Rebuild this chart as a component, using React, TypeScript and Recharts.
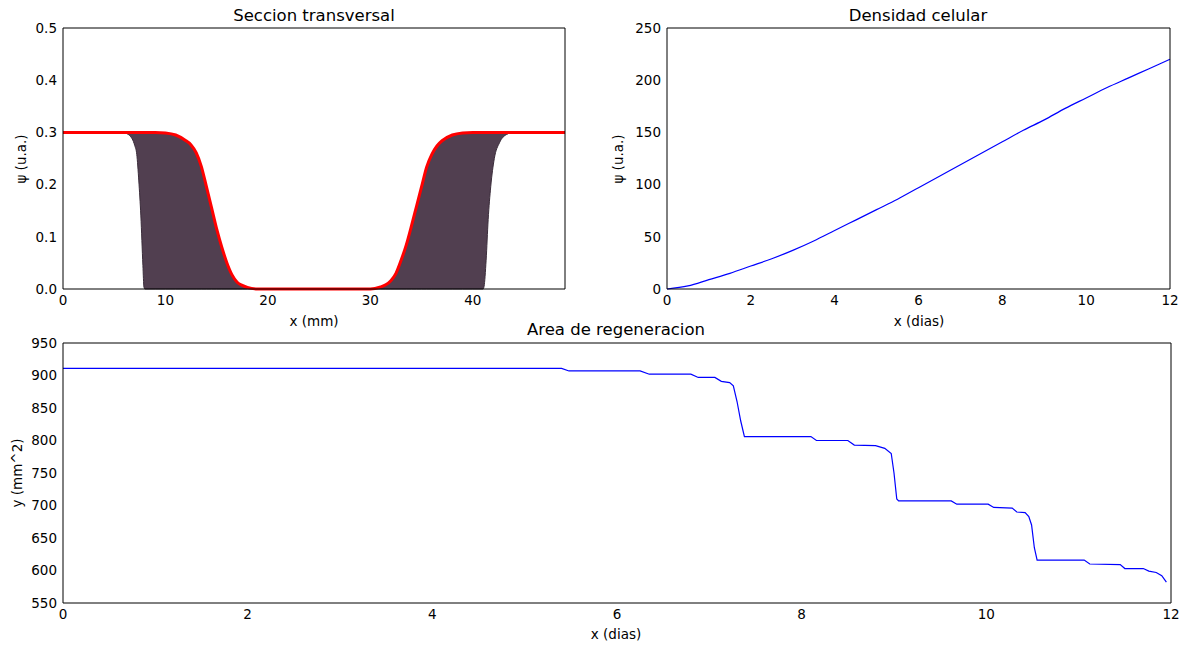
import React from "react";
import { ComposedChart, LineChart, Line, Area, XAxis, YAxis } from "recharts";

// Seccion transversal: profile at the first step and at the last step (red)
const sectionX = [
  0, 5, 5.5, 6, 6.5, 7, 7.2, 7.4, 7.6, 7.8, 7.9, 8, 9, 10, 11, 12, 12.5, 13, 13.5, 14, 14.5, 15, 15.5, 16,
  16.5, 17, 17.5, 18, 19, 30, 31, 31.5, 32, 32.5, 33, 33.5, 34, 34.5, 35, 35.5, 36, 36.5, 37, 38, 39, 40,
  41, 41.1, 41.3, 41.5, 41.75, 42.1, 42.6, 43.3, 44, 49,
];
const sectionInitial = [
  0.3, 0.3, 0.3, 0.299, 0.294, 0.275, 0.258, 0.207, 0.14, 0.045, 0.004, 0, 0, 0, 0, 0, 0, 0, 0, 0, 0, 0, 0, 0,
  0, 0, 0, 0, 0, 0, 0, 0, 0, 0, 0, 0, 0, 0, 0, 0, 0, 0, 0, 0, 0, 0,
  0, 0.005, 0.055, 0.133, 0.196, 0.25, 0.28, 0.296, 0.3, 0.3,
];
const sectionFinal = [
  0.3, 0.3, 0.3, 0.3, 0.3, 0.3, 0.3, 0.3, 0.3, 0.3, 0.3, 0.3, 0.3, 0.299, 0.295, 0.284, 0.276, 0.261, 0.235, 0.196, 0.156, 0.115, 0.08, 0.05,
  0.027, 0.013, 0.007, 0.003, 0, 0, 0.004, 0.008, 0.016, 0.03, 0.055, 0.084, 0.12, 0.158, 0.196, 0.234, 0.258, 0.274, 0.284, 0.295, 0.299, 0.3,
  0.3, 0.3, 0.3, 0.3, 0.3, 0.3, 0.3, 0.3, 0.3, 0.3,
];

// Densidad celular
const densityDays = [0, 0.5, 1, 1.5, 2, 2.5, 3, 3.5, 4, 4.5, 5, 5.5, 6, 6.5, 7, 7.5, 8, 8.5, 9, 9.5, 10, 10.5, 11, 11.5, 12];
const densityValues = [0, 3, 9, 15, 22, 29, 37, 46, 56, 66, 76, 86, 97, 108, 119, 130, 141, 152, 162, 173, 183, 193, 202, 211, 220];

// Area de regeneracion
const areaDays = [
  0, 5.4, 5.48, 6.25, 6.35, 6.8, 6.88, 7.06, 7.13, 7.22, 7.26, 7.3, 7.34, 7.38, 8.1, 8.16, 8.5, 8.57, 8.8, 8.9,
  8.97, 9.0, 9.03, 9.05, 9.62, 9.68, 10.02, 10.08, 10.28, 10.33, 10.42, 10.46, 10.49, 10.52, 10.55, 11.06, 11.12,
  11.45, 11.5, 11.7, 11.76, 11.84, 11.9, 11.95,
];
const areaValues = [
  911, 911, 907, 907, 902, 902, 897, 897, 891, 889, 884, 860, 830, 806, 806, 800, 800, 793, 792, 788,
  780, 750, 710, 707, 707, 702, 702, 697, 696, 690, 689, 683, 670, 635, 616, 616, 610,
  609, 603, 603, 599, 597, 592, 582,
];

const sectionTicksX = [0, 10, 20, 30, 40];
const sectionTicksY = [0, 0.1, 0.2, 0.3, 0.4, 0.5];
const dayTicks = [0, 2, 4, 6, 8, 10, 12];
const densityTicksY = [0, 50, 100, 150, 200, 250];
const areaTicksY = [550, 600, 650, 700, 750, 800, 850, 900, 950];

const sectionData = sectionX.map((x, i) => ({ x, init: sectionInitial[i], red: sectionFinal[i] }));
const densityData = densityDays.map((x, i) => ({ x, y: densityValues[i] }));
const areaData = areaDays.map((x, i) => ({ x, y: areaValues[i] }));

const tickStyle = { fontSize: 13.5, fill: "#000" };
const line = { stroke: "#000", strokeWidth: 1 };

const Txt = ({ x, y, size = 13.5, rotate = false, children }: any) => (
  <div
    style={{
      position: "absolute",
      left: x,
      top: y,
      fontSize: size,
      whiteSpace: "nowrap",
      lineHeight: 1,
      transform: `translate(-50%, -50%)${rotate ? " rotate(-90deg)" : ""}`,
    }}
  >
    {children}
  </div>
);

// box with inward ticks on all four sides, like the matplotlib frame
const frame = (
  xTicks: number[],
  xDomain: number[],
  yTicks: number[],
  yDomain: number[],
  yWidth: number,
  fmt?: (v: number) => string
) => {
  const xCommon = { dataKey: "x", type: "number" as const, domain: xDomain, ticks: xTicks, interval: 0 as const };
  const yCommon = { type: "number" as const, domain: yDomain, ticks: yTicks, interval: 0 as const };
  return [
    // labelled axes
    <XAxis key="xb" {...xCommon} height={30} axisLine={line} tickLine={false} tickSize={0} tickMargin={6} tick={tickStyle} />,
    <YAxis key="yl" {...yCommon} width={yWidth} axisLine={line} tickLine={false} tickSize={0} tickMargin={6} tick={tickStyle} tickFormatter={fmt} />,
    // inward tick marks and the top / right edges
    <XAxis key="xbm" xAxisId="bm" {...xCommon} mirror axisLine={false} tickLine={line} tickSize={4} tick={false} />,
    <XAxis key="xt" xAxisId="top" orientation="top" {...xCommon} mirror axisLine={line} tickLine={line} tickSize={4} tick={false} />,
    <YAxis key="ylm" yAxisId="lm" {...yCommon} mirror axisLine={false} tickLine={line} tickSize={4} tick={false} />,
    <YAxis key="yr" yAxisId="right" orientation="right" {...yCommon} mirror axisLine={line} tickLine={line} tickSize={4} tick={false} />,
  ];
};

export default function App() {
  return (
    <div
      style={{
        position: "absolute",
        left: 0,
        top: 0,
        width: 1197,
        height: 650,
        background: "#fff",
        fontFamily: "'DejaVu Sans', sans-serif",
        color: "#000",
      }}
    >
      {/* Seccion transversal */}
      <div style={{ position: "absolute", left: 0, top: 0 }}>
        <ComposedChart width={580} height={320} data={sectionData} margin={{ top: 28, right: 15, left: 0, bottom: 1 }}>
          {frame(sectionTicksX, [0, 49], sectionTicksY, [0, 0.5], 63, (v) => v.toFixed(1))}
          <Area
            type="monotone"
            dataKey={(d: any) => [d.init, d.red]}
            stroke="none"
            fill="#513f50"
            fillOpacity={1}
            isAnimationActive={false}
          />
          <Line type="monotone" dataKey="init" stroke="#3a2c3a" strokeWidth={1} dot={false} isAnimationActive={false} />
          <Line type="monotone" dataKey="red" stroke="#ff0000" strokeWidth={3} dot={false} isAnimationActive={false} />
        </ComposedChart>
      </div>

      {/* Densidad celular */}
      <div style={{ position: "absolute", left: 600, top: 0 }}>
        <LineChart width={597} height={320} data={densityData} margin={{ top: 28, right: 27, left: 0, bottom: 1 }}>
          {frame(dayTicks, [0, 12], densityTicksY, [0, 250], 67)}
          <Line type="monotone" dataKey="y" stroke="#0000ff" strokeWidth={1.2} dot={false} isAnimationActive={false} />
        </LineChart>
      </div>

      {/* Area de regeneracion */}
      <div style={{ position: "absolute", left: 0, top: 310 }}>
        <LineChart width={1197} height={340} data={areaData} margin={{ top: 33, right: 26, left: 0, bottom: 17 }}>
          {frame(dayTicks, [0, 12], areaTicksY, [550, 950], 63)}
          <Line type="linear" dataKey="y" stroke="#0000ff" strokeWidth={1.2} dot={false} isAnimationActive={false} />
        </LineChart>
      </div>

      <Txt x={314} y={16} size={16.5}>Seccion transversal</Txt>
      <Txt x={918} y={16} size={16.5}>Densidad celular</Txt>
      <Txt x={616} y={330} size={16.5}>Area de regeneracion</Txt>

      <Txt x={314} y={322}>x (mm)</Txt>
      <Txt x={919} y={322}>x (dias)</Txt>
      <Txt x={616} y={635}>x (dias)</Txt>

      <Txt x={22} y={159} rotate>ψ (u.a.)</Txt>
      <Txt x={619} y={159} rotate>ψ (u.a.)</Txt>
      <Txt x={18} y={473} rotate>y (mm^2)</Txt>
    </div>
  );
}
